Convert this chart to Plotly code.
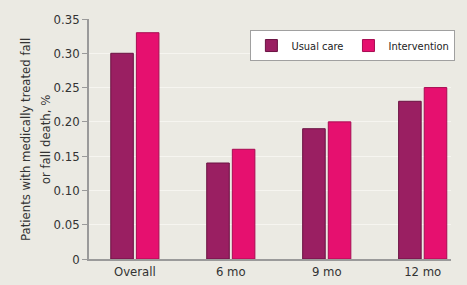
import plotly.graph_objects as go

categories = ["Overall", "6 mo", "9 mo", "12 mo"]
usual_care = [0.30, 0.14, 0.19, 0.23]
intervention = [0.33, 0.16, 0.20, 0.25]
y_tick_vals = [0, 0.05, 0.10, 0.15, 0.20, 0.25, 0.30, 0.35]
y_tick_text = ["0", "0.05", "0.10", "0.15", "0.20", "0.25", "0.30", "0.35"]
title_lines = ["Patients with medically treated fall", "or fall death, %"]

FONT = "DejaVu Sans Condensed, Roboto, Arial, sans-serif"
BG = "#ebeae3"

fig = go.Figure()
fig.add_trace(go.Bar(x=categories, y=usual_care, name="Usual care",
                     marker=dict(color="#9a1f62", line=dict(color="#6a1242", width=1))))
fig.add_trace(go.Bar(x=categories, y=intervention, name="Intervention",
                     marker=dict(color="#e6106f", line=dict(color="#a80c52", width=1))))

fig.update_layout(
    width=467, height=285,
    margin=dict(l=89, r=15, t=19, b=26),
    paper_bgcolor=BG, plot_bgcolor=BG,
    barmode="group", bargap=0.466, bargroupgap=0.12,
    font=dict(family=FONT, size=12, color="#333333"),
    legend=dict(orientation="h", x=0.727, y=0.954, xanchor="center", yanchor="top",
                bgcolor="white", bordercolor="#a0a0a0", borderwidth=1,
                font=dict(family=FONT, size=11, color="#222222"),
                itemwidth=30, tracegroupgap=0),
    xaxis=dict(range=[-0.478, 3.295], showline=True, linecolor="#9a9a9a", linewidth=1.5,
               ticks="", showgrid=False, automargin=False,
               tickfont=dict(size=13, color="#333333")),
    yaxis=dict(range=[0, 0.35], tickvals=y_tick_vals, ticktext=y_tick_text,
               showline=True, linecolor="#9a9a9a", linewidth=1.5,
               ticks="outside", ticklen=5, tickcolor="#9a9a9a", automargin=False,
               showgrid=True, gridcolor="#f6f5f0", gridwidth=1, zeroline=False,
               tickfont=dict(size=13, color="#333333")),
    annotations=[dict(text=line, xref="paper", yref="paper", x=xp, y=0.5,
                      xanchor="center", yanchor="middle", textangle=-90,
                      showarrow=False, font=dict(family=FONT, size=13, color="#333333"))
                 for line, xp in zip(title_lines, [-0.177, -0.121])],
)

fig.write_html("out.html")
